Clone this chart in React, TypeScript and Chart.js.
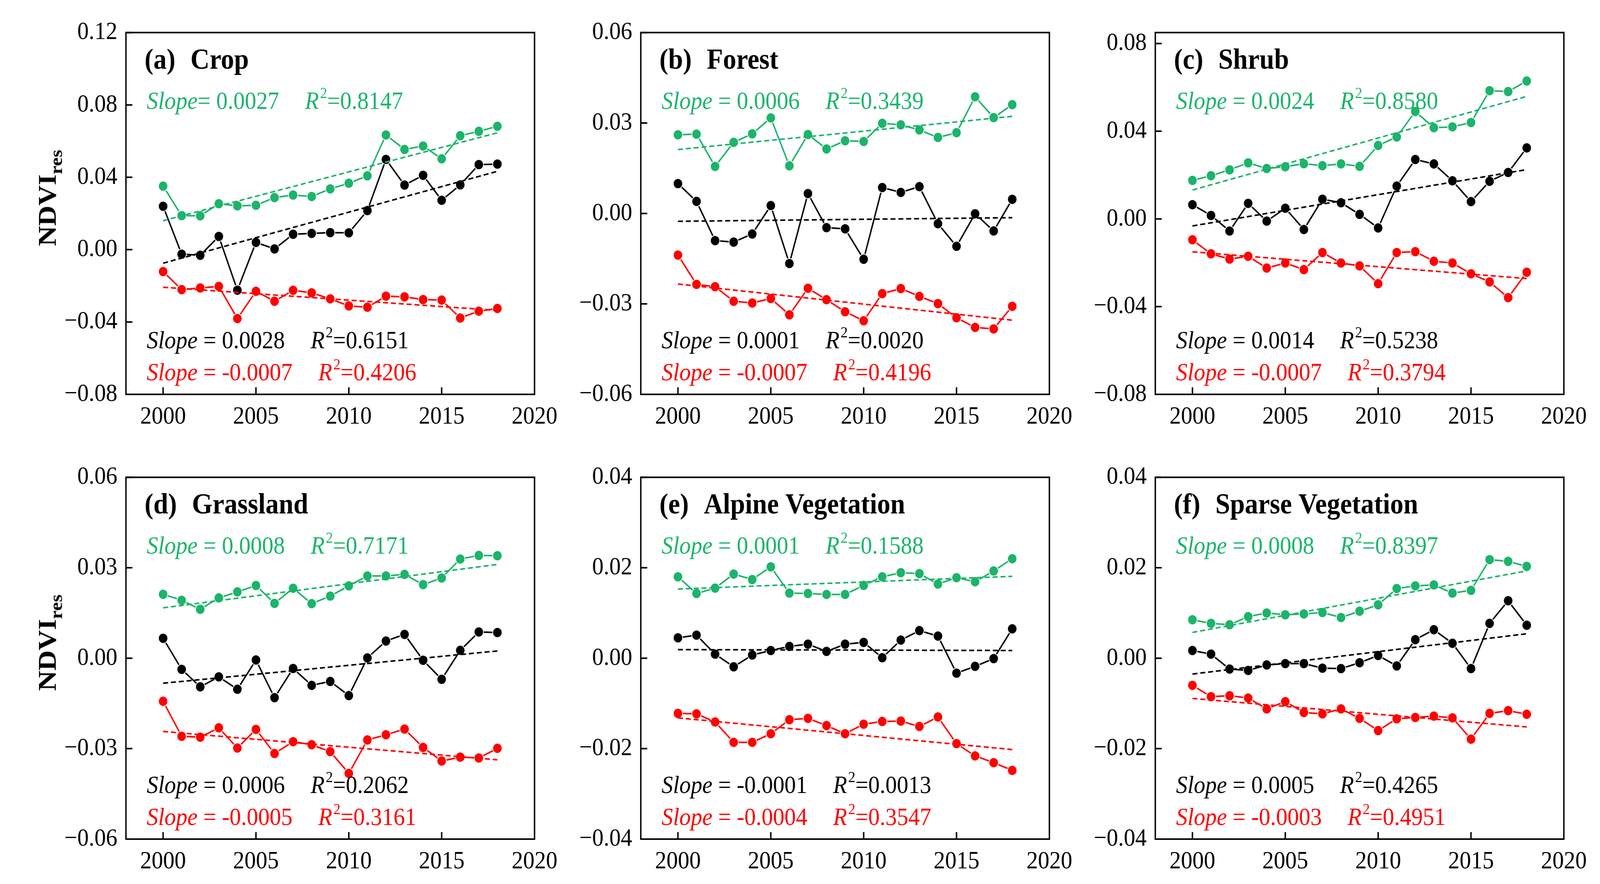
import React, { useEffect, useRef } from 'react';
import { Chart, registerables } from 'chart.js';

Chart.register(...registerables);

const FONT = '"Liberation Serif", "Times New Roman", serif';
const GREEN = '#1bb46a';
const BLACK = '#000000';
const RED = '#ff0000';

// ---------- data ----------
const years = [2000, 2001, 2002, 2003, 2004, 2005, 2006, 2007, 2008, 2009, 2010, 2011, 2012, 2013, 2014, 2015, 2016, 2017, 2018];
const trendYears = [2000, 2018];

const panelTitles = ['(a)', '(b)', '(c)', '(d)', '(e)', '(f)'];
const panelNames = ['Crop', 'Forest', 'Shrub', 'Grassland', 'Alpine Vegetation', 'Sparse Vegetation'];

const yMins = [-0.08, -0.06, -0.08, -0.06, -0.04, -0.04];
const yMaxs = [0.12, 0.06, 0.085, 0.06, 0.04, 0.04];
const ySteps = [0.04, 0.03, 0.04, 0.03, 0.02, 0.02];

const cropGreen = [0.0351, 0.0188, 0.0187, 0.0254, 0.0242, 0.0245, 0.0288, 0.0302, 0.0294, 0.0336, 0.0367, 0.0408, 0.0634, 0.0554, 0.0573, 0.0502, 0.0630, 0.0654, 0.0682];
const cropBlack = [0.0240, -0.0025, -0.0031, 0.0073, -0.0224, 0.0040, 0.0004, 0.0085, 0.0090, 0.0094, 0.0093, 0.0216, 0.0499, 0.0357, 0.0411, 0.0273, 0.0358, 0.0470, 0.0473];
const cropRed = [-0.0121, -0.0221, -0.0212, -0.0203, -0.0381, -0.0230, -0.0285, -0.0225, -0.0239, -0.0272, -0.0311, -0.0318, -0.0257, -0.0261, -0.0276, -0.0279, -0.0378, -0.0340, -0.0325];

const forestGreen = [0.0261, 0.0263, 0.0156, 0.0236, 0.0264, 0.0317, 0.0158, 0.0262, 0.0214, 0.0241, 0.0239, 0.0299, 0.0294, 0.0277, 0.0252, 0.0268, 0.0387, 0.0318, 0.0361];
const forestBlack = [0.0099, 0.0040, -0.0090, -0.0095, -0.0068, 0.0026, -0.0166, 0.0066, -0.0047, -0.0051, -0.0152, 0.0086, 0.0070, 0.0089, -0.0034, -0.0109, -0.0001, -0.0058, 0.0047];
const forestRed = [-0.0138, -0.0235, -0.0243, -0.0291, -0.0297, -0.0282, -0.0336, -0.0248, -0.0286, -0.0326, -0.0356, -0.0266, -0.0249, -0.0275, -0.0299, -0.0346, -0.0378, -0.0383, -0.0308];

const shrubGreen = [0.0176, 0.0197, 0.0224, 0.0256, 0.0230, 0.0238, 0.0252, 0.0243, 0.0251, 0.0240, 0.0335, 0.0374, 0.0490, 0.0416, 0.0420, 0.0440, 0.0585, 0.0581, 0.0629];
const shrubBlack = [0.0065, 0.0016, -0.0055, 0.0071, -0.0010, 0.0049, -0.0048, 0.0090, 0.0074, 0.0021, -0.0041, 0.0150, 0.0271, 0.0251, 0.0174, 0.0079, 0.0172, 0.0212, 0.0324];
const shrubRed = [-0.0095, -0.0159, -0.0183, -0.0170, -0.0224, -0.0201, -0.0231, -0.0153, -0.0201, -0.0214, -0.0295, -0.0153, -0.0149, -0.0193, -0.0201, -0.0250, -0.0287, -0.0359, -0.0243];

const grassGreen = [0.0212, 0.0192, 0.0162, 0.0200, 0.0220, 0.0241, 0.0182, 0.0232, 0.0181, 0.0206, 0.0240, 0.0273, 0.0273, 0.0278, 0.0244, 0.0266, 0.0329, 0.0341, 0.0340];
const grassBlack = [0.0066, -0.0037, -0.0095, -0.0062, -0.0103, -0.0006, -0.0131, -0.0034, -0.0090, -0.0077, -0.0124, 0.0001, 0.0057, 0.0079, -0.0007, -0.0070, 0.0026, 0.0087, 0.0085];
const grassRed = [-0.0143, -0.0259, -0.0262, -0.0231, -0.0298, -0.0236, -0.0316, -0.0277, -0.0287, -0.0310, -0.0382, -0.0271, -0.0254, -0.0235, -0.0296, -0.0341, -0.0328, -0.0331, -0.0299];

const alpineGreen = [0.0180, 0.0143, 0.0155, 0.0186, 0.0174, 0.0202, 0.0144, 0.0143, 0.0141, 0.0141, 0.0161, 0.0180, 0.0189, 0.0187, 0.0164, 0.0178, 0.0169, 0.0193, 0.0220];
const alpineBlack = [0.0045, 0.0051, 0.0009, -0.0019, 0.0007, 0.0017, 0.0026, 0.0031, 0.0015, 0.0031, 0.0035, 0.0001, 0.0040, 0.0061, 0.0049, -0.0033, -0.0018, -0.0001, 0.0065];
const alpineRed = [-0.0122, -0.0123, -0.0141, -0.0186, -0.0186, -0.0167, -0.0136, -0.0133, -0.0149, -0.0167, -0.0146, -0.0140, -0.0139, -0.0151, -0.0130, -0.0189, -0.0216, -0.0231, -0.0248];

const sparseGreen = [0.0085, 0.0077, 0.0074, 0.0092, 0.0100, 0.0096, 0.0098, 0.0101, 0.0090, 0.0104, 0.0118, 0.0154, 0.0160, 0.0162, 0.0144, 0.0150, 0.0218, 0.0214, 0.0203];
const sparseBlack = [0.0017, 0.0009, -0.0024, -0.0027, -0.0015, -0.0012, -0.0012, -0.0022, -0.0023, -0.0010, 0.0006, -0.0017, 0.0041, 0.0063, 0.0033, -0.0023, 0.0077, 0.0127, 0.0073];
const sparseRed = [-0.0060, -0.0085, -0.0083, -0.0088, -0.0112, -0.0096, -0.0120, -0.0123, -0.0112, -0.0133, -0.0160, -0.0134, -0.0131, -0.0128, -0.0132, -0.0179, -0.0122, -0.0116, -0.0124];

// trend line end points (2000, 2018)
const cropTrendGreen = [0.0160, 0.0646];
const cropTrendBlack = [-0.0075, 0.0433];
const cropTrendRed = [-0.0208, -0.0336];
const forestTrendGreen = [0.0212, 0.0322];
const forestTrendBlack = [-0.0026, -0.0014];
const forestTrendRed = [-0.0234, -0.0354];
const shrubTrendGreen = [0.0132, 0.0559];
const shrubTrendBlack = [-0.0032, 0.0225];
const shrubTrendRed = [-0.0150, -0.0272];
const grassTrendGreen = [0.0167, 0.0311];
const grassTrendBlack = [-0.0083, 0.0024];
const grassTrendRed = [-0.0243, -0.0337];
const alpineTrendGreen = [0.0153, 0.0181];
const alpineTrendBlack = [0.0019, 0.0017];
const alpineTrendRed = [-0.0132, -0.0202];
const sparseTrendGreen = [0.0057, 0.0193];
const sparseTrendBlack = [-0.0035, 0.0054];
const sparseTrendRed = [-0.0089, -0.0152];

const greenSlopes = ['0.0027', '0.0006', '0.0024', '0.0008', '0.0001', '0.0008'];
const greenR2 = ['0.8147', '0.3439', '0.8580', '0.7171', '0.1588', '0.8397'];
const blackSlopes = ['0.0028', '0.0001', '0.0014', '0.0006', '-0.0001', '0.0005'];
const blackR2 = ['0.6151', '0.0020', '0.5238', '0.2062', '0.0013', '0.4265'];
const redSlopes = ['-0.0007', '-0.0007', '-0.0007', '-0.0005', '-0.0004', '-0.0003'];
const redR2 = ['0.4206', '0.4196', '0.3794', '0.3161', '0.3547', '0.4951'];

const greenSeries = [cropGreen, forestGreen, shrubGreen, grassGreen, alpineGreen, sparseGreen];
const blackSeries = [cropBlack, forestBlack, shrubBlack, grassBlack, alpineBlack, sparseBlack];
const redSeries = [cropRed, forestRed, shrubRed, grassRed, alpineRed, sparseRed];
const greenTrends = [cropTrendGreen, forestTrendGreen, shrubTrendGreen, grassTrendGreen, alpineTrendGreen, sparseTrendGreen];
const blackTrends = [cropTrendBlack, forestTrendBlack, shrubTrendBlack, grassTrendBlack, alpineTrendBlack, sparseTrendBlack];
const redTrends = [cropTrendRed, forestTrendRed, shrubTrendRed, grassTrendRed, alpineTrendRed, sparseTrendRed];

// ---------- layout (designed on a 4472 x 2264 page, scaled to the viewport) ----------
const PAGE_W = 4472;
const PAGE_H = 2264;
const FRAMES_X = [352, 1791, 3229];
const FRAMES_Y = [81, 1220];
const FRAME_W = 1142;
const FRAME_H = 929;
const PAD_L = 210;
const PAD_T = 60;
const PAD_R = 90;
const PAD_B = 140;
const CANVAS_W = FRAME_W + PAD_L + PAD_R;
const CANVAS_H = FRAME_H + PAD_T + PAD_B;

function fmtY(v: number): string {
  if (Math.abs(v) < 1e-9) return '0.00';
  const s = Math.abs(v).toFixed(2);
  return v < 0 ? '\u2212' + s : s;
}

type Seg = { text: string; italic?: boolean; bold?: boolean; size?: number; dy?: number; gap?: number };

function drawRich(ctx: CanvasRenderingContext2D, x: number, y: number, color: string, segs: Seg[]) {
  let cx = x;
  ctx.fillStyle = color;
  ctx.textBaseline = 'alphabetic';
  ctx.textAlign = 'left';
  for (const s of segs) {
    const size = s.size || 64;
    ctx.font = `${s.italic ? 'italic ' : ''}${s.bold ? 'bold ' : ''}${size}px ${FONT}`;
    ctx.fillText(s.text, cx, y + (s.dy || 0));
    cx += ctx.measureText(s.text).width + (s.gap || 0);
  }
}

function statSegs(eq: string, slope: string, r2: string): Seg[] {
  return [
    { text: 'Slope', italic: true },
    { text: eq + slope, gap: 72 },
    { text: 'R', italic: true, gap: 3 },
    { text: '2', size: 40, dy: -28 },
    { text: '=' + r2 },
  ];
}

function makePlugin(i: number) {
  return {
    id: 'panelDecor' + i,
    afterDatasetsDraw(chart: any) {
      const ctx: CanvasRenderingContext2D = chart.ctx;
      const a = chart.chartArea;
      const xs = chart.scales.x;
      const ys = chart.scales.y;
      ctx.save();
      ctx.strokeStyle = '#000';
      ctx.lineWidth = 4;
      ctx.beginPath();
      for (const t of ys.ticks) {
        const py = ys.getPixelForValue(t.value);
        ctx.moveTo(a.left, py);
        ctx.lineTo(a.left + 18, py);
      }
      for (const t of xs.ticks) {
        const px = xs.getPixelForValue(t.value);
        ctx.moveTo(px, a.bottom);
        ctx.lineTo(px, a.bottom - 18);
      }
      ctx.stroke();
      ctx.lineWidth = 4;
      ctx.strokeRect(a.left, a.top, a.right - a.left, a.bottom - a.top);
      const tx = a.left + 52;
      ctx.fillStyle = '#000';
      ctx.font = `bold 74px ${FONT}`;
      ctx.textBaseline = 'alphabetic';
      ctx.textAlign = 'left';
      ctx.fillText(panelTitles[i], tx, a.top + 93);
      const w = ctx.measureText(panelTitles[i]).width;
      ctx.fillText(panelNames[i], tx + w + 42, a.top + 93);
      const sx = a.left + 58;
      drawRich(ctx, sx, a.top + 196, GREEN, statSegs(i === 0 ? '= ' : ' = ', greenSlopes[i], greenR2[i]));
      drawRich(ctx, sx, a.bottom - 118, BLACK, statSegs(' = ', blackSlopes[i], blackR2[i]));
      drawRich(ctx, sx, a.bottom - 36, RED, statSegs(' = ', redSlopes[i], redR2[i]));
      ctx.restore();
    },
  };
}

function lineDs(values: number[], color: string) {
  return {
    data: years.map((x, k) => ({ x, y: values[k] })),
    borderColor: color,
    backgroundColor: color,
    borderWidth: 4,
    pointRadius: 13,
    pointBorderColor: '#ffffff',
    pointBorderWidth: 2,
    pointBackgroundColor: color,
    tension: 0,
    order: 1,
  };
}

function trendDs(values: number[], color: string) {
  return {
    data: trendYears.map((x, k) => ({ x, y: values[k] })),
    borderColor: color,
    borderWidth: 4,
    borderDash: [14, 8],
    pointRadius: 0,
    tension: 0,
    order: 0,
  };
}

function Panel({ i }: { i: number }) {
  const ref = useRef<HTMLCanvasElement | null>(null);
  useEffect(() => {
    if (!ref.current) return;
    const chart = new Chart(ref.current, {
      type: 'line',
      data: {
        datasets: [
          trendDs(greenTrends[i], GREEN),
          trendDs(blackTrends[i], BLACK),
          trendDs(redTrends[i], RED),
          lineDs(greenSeries[i], GREEN),
          lineDs(blackSeries[i], BLACK),
          lineDs(redSeries[i], RED),
        ] as any,
      },
      options: {
        animation: false,
        responsive: false,
        maintainAspectRatio: false,
        devicePixelRatio: 1,
        layout: { padding: { left: 0, top: PAD_T, right: PAD_R, bottom: 0 } },
        plugins: { legend: { display: false }, tooltip: { enabled: false }, title: { display: false } },
        scales: {
          x: {
            type: 'linear',
            min: 1998,
            max: 2020,
            grid: { display: false, drawTicks: false },
            border: { display: false },
            ticks: {
              stepSize: 5,
              includeBounds: false,
              padding: 20,
              color: '#000',
              maxRotation: 0,
              autoSkip: false,
              font: { family: FONT, size: 64 },
              callback: (v: any) => String(v),
            },
            afterFit: (s: any) => { s.height = PAD_B; },
          },
          y: {
            type: 'linear',
            min: yMins[i],
            max: yMaxs[i],
            grid: { display: false, drawTicks: false },
            border: { display: false },
            ticks: {
              stepSize: ySteps[i],
              includeBounds: false,
              padding: 24,
              color: '#000',
              autoSkip: false,
              font: { family: FONT, size: 64 },
              callback: (v: any) => fmtY(Number(v)),
            },
            afterFit: (s: any) => { s.width = PAD_L; },
          },
        },
      } as any,
      plugins: [makePlugin(i)],
    });
    return () => chart.destroy();
  }, [i]);
  const col = i % 3;
  const row = Math.floor(i / 3);
  return (
    <canvas
      ref={ref}
      width={CANVAS_W}
      height={CANVAS_H}
      style={{
        position: 'absolute',
        left: FRAMES_X[col] - PAD_L,
        top: FRAMES_Y[row] - PAD_T,
        width: CANVAS_W,
        height: CANVAS_H,
      }}
    />
  );
}

function YTitle({ cy }: { cy: number }) {
  return (
    <div
      style={{
        position: 'absolute',
        left: 135,
        top: cy,
        transform: 'translate(-50%, -50%) rotate(-90deg)',
        font: `bold 72px ${FONT}`,
        lineHeight: '72px',
        whiteSpace: 'nowrap',
        color: '#000',
      }}
    >
      NDVI
      <span style={{ fontSize: 50, position: 'relative', top: 18 }}>res</span>
    </div>
  );
}

export default function App() {
  const vw = typeof window !== 'undefined' ? window.innerWidth || PAGE_W : PAGE_W;
  const vh = typeof window !== 'undefined' ? window.innerHeight || PAGE_H : PAGE_H;
  const sx = vw / PAGE_W;
  const sy = vh / PAGE_H;
  return (
    <div
      style={{
        position: 'fixed',
        left: 0,
        top: 0,
        width: PAGE_W,
        height: PAGE_H,
        background: '#ffffff',
        overflow: 'hidden',
        transform: `scale(${sx}, ${sy})`,
        transformOrigin: '0 0',
      }}
    >
      {[0, 1, 2, 3, 4, 5].map((i) => (
        <Panel key={i} i={i} />
      ))}
      <YTitle cy={507} />
      <YTitle cy={1646} />
    </div>
  );
}
